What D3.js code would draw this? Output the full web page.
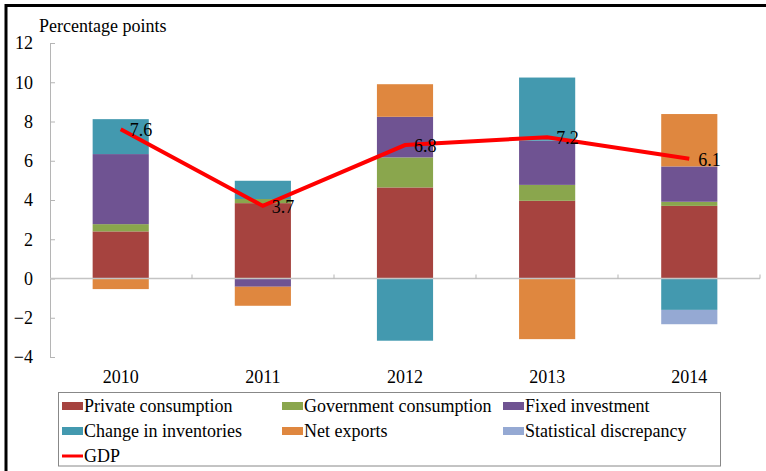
<!DOCTYPE html>
<html><head><meta charset="utf-8">
<script src="https://cdn.jsdelivr.net/npm/d3@7"></script>
<style>body{margin:0;background:#fff}svg{display:block;font-family:'Liberation Serif','Times New Roman',serif}svg text{font-family:'Liberation Serif','Times New Roman',serif !important}</style>
</head><body>
<svg id="c" width="766" height="471"></svg>
<script>
const years = ["2010","2011","2012","2013","2014"];
const seriesNames = ["Private consumption","Government consumption","Fixed investment","Change in inventories","Net exports","Statistical discrepancy"];
const seriesColors = ["#A6433F","#8AA64D","#6F5392","#4399AF","#DF873F","#95A9D3"];
const privateConsumption = [2.40, 3.84, 4.64, 3.96, 3.70];
const governmentConsumption = [0.37, 0.21, 1.53, 0.81, 0.21];
const fixedInvestment = [3.57, -0.42, 2.07, 2.25, 1.80];
const changeInInventories = [1.78, 0.93, -3.17, 3.22, -1.60];
const netExports = [-0.54, -0.97, 1.66, -3.09, 2.67];
const statisticalDiscrepancy = [0, 0, 0, 0, -0.73];
const gdp = [7.6, 3.7, 6.8, 7.2, 6.1];
const yTicks = [-4,-2,0,2,4,6,8,10,12];

const seriesValues = [privateConsumption, governmentConsumption, fixedInvestment, changeInInventories, netExports, statisticalDiscrepancy];
const svg = d3.select("#c");
const font = "'Liberation Serif','Times New Roman',serif";

// frame
svg.append("line").attr("x1",6).attr("x2",766).attr("y1",5.5).attr("y2",5.5).attr("stroke","#000").attr("stroke-width",3);
svg.append("line").attr("x1",6).attr("x2",6).attr("y1",4).attr("y2",471).attr("stroke","#000").attr("stroke-width",3);

const x = d3.scaleBand().domain(years).range([50,760]).paddingInner(0.605).paddingOuter(0.3);
const y = d3.scaleLinear().domain([-4,12]).range([357,43]);

// stacked bars (diverging)
const g = svg.append("g");
years.forEach((yr,i)=>{
  let pos=0, neg=0;
  seriesValues.forEach((arr,s)=>{
    const v = arr[i];
    if(!v) return;
    let y0,y1;
    if(v>=0){y0=pos;y1=pos+v;pos=y1;}else{y0=neg;y1=neg+v;neg=y1;}
    g.append("rect").attr("x",x(yr)).attr("width",x.bandwidth())
      .attr("y",y(Math.max(y0,y1))).attr("height",Math.abs(y(y0)-y(y1)))
      .attr("fill",seriesColors[s]);
  });
});

// y axis
const yAxis = svg.append("g").attr("transform","translate(50,0)")
  .call(d3.axisLeft(y).tickValues(yTicks).tickSizeInner(-5).tickSizeOuter(0).tickPadding(17));
yAxis.attr("font-family",font);
yAxis.select(".domain").attr("stroke","#b5b5b5");
yAxis.selectAll(".tick line").attr("stroke","#b5b5b5");
yAxis.selectAll("text").attr("font-size",18).attr("fill","#000");

// x axis line at zero
const xa = svg.append("g");
xa.append("line").attr("x1",50).attr("x2",760).attr("y1",y(0)).attr("y2",y(0)).attr("stroke","#c4c4c4").attr("stroke-width",1.5);
const step = 710/years.length;
d3.range(1,years.length+1).forEach(k=>{
  xa.append("line").attr("x1",50+k*step).attr("x2",50+k*step).attr("y1",y(0)).attr("y2",y(0)-4).attr("stroke","#b5b5b5");
});
svg.append("g").selectAll("text").data(years).join("text")
  .attr("x",d=>x(d)+x.bandwidth()/2).attr("y",383).attr("text-anchor","middle")
  .attr("font-size",18).text(d=>d);

// y label
svg.append("text").attr("x",39).attr("y",32).attr("font-size",18).text("Percentage points");

// GDP line
const cx = d=>x(d)+x.bandwidth()/2;
svg.append("path").datum(gdp).attr("fill","none").attr("stroke","#FF0000").attr("stroke-width",4)
  .attr("stroke-linejoin","miter")
  .attr("d",d3.line().x((d,i)=>cx(years[i])).y(d=>y(d)));
svg.append("g").selectAll("text").data(gdp).join("text")
  .attr("x",(d,i)=>cx(years[i])+9).attr("y",d=>y(d)+7)
  .attr("font-size",18).text(d=>d.toFixed(1));

// legend
const lg = svg.append("g");
lg.append("rect").attr("x",58.5).attr("y",392.5).attr("width",662).attr("height",73.5).attr("fill","#fff").attr("stroke","#888").attr("stroke-width",1);
const colX = [62,282,503], rowY = [406,431];
seriesNames.forEach((n,i)=>{
  const cxl = colX[i%3], cy = rowY[Math.floor(i/3)];
  lg.append("rect").attr("x",cxl).attr("y",cy-4).attr("width",21).attr("height",8).attr("fill",seriesColors[i]);
  lg.append("text").attr("x",cxl+22).attr("y",cy+6).attr("font-size",18).text(n);
});
lg.append("line").attr("x1",62).attr("x2",83).attr("y1",456).attr("y2",456).attr("stroke","#FF0000").attr("stroke-width",3);
lg.append("text").attr("x",84).attr("y",462).attr("font-size",18).text("GDP");
</script>
</body></html>
